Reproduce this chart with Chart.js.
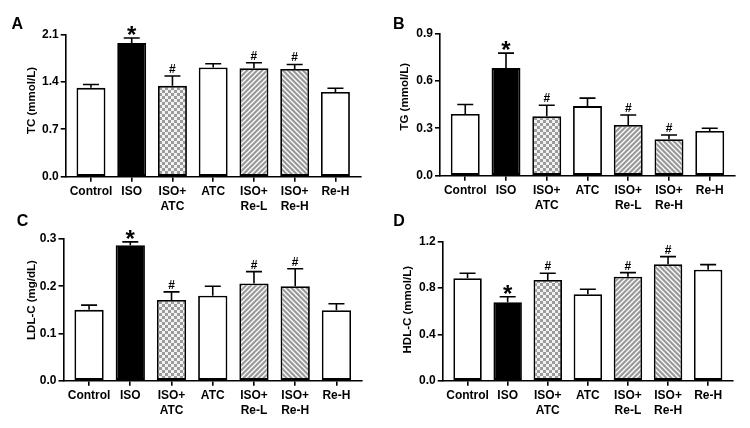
<!DOCTYPE html>
<html>
<head>
<meta charset="utf-8">
<script src="https://cdn.jsdelivr.net/npm/chart.js@4.4.1/dist/chart.umd.min.js"></script>
<style>
    html, body { margin: 0; padding: 0; background: #fff; }
    #wrap { position: relative; width: 750px; height: 428px; }
    #wrap canvas { position: absolute; }
</style>
</head>
<body>
<div id="wrap">
    <canvas id="chartA" width="375" height="214" style="left:0;top:0"></canvas>
    <canvas id="chartB" width="375" height="214" style="left:375px;top:0"></canvas>
    <canvas id="chartC" width="375" height="214" style="left:0;top:214px"></canvas>
    <canvas id="chartD" width="375" height="214" style="left:375px;top:214px"></canvas>
</div>
<script>
// ===== DATA =====
const groups = [["Control"], ["ISO"], ["ISO+", "ATC"], ["ATC"], ["ISO+", "Re-L"], ["ISO+", "Re-H"], ["Re-H"]];
const sigMarks = ["", "*", "#", "", "#", "#", ""];

const tcMean = [1.31, 1.97, 1.34, 1.61, 1.60, 1.59, 1.25];
const tcSem = [0.05, 0.075, 0.145, 0.055, 0.08, 0.065, 0.055];
const tcTicks = [0, 0.7, 1.4, 2.1];

const tgMean = [0.39, 0.68, 0.375, 0.44, 0.32, 0.23, 0.283];
const tgSem = [0.06, 0.095, 0.07, 0.05, 0.064, 0.027, 0.017];
const tgTicks = [0, 0.3, 0.6, 0.9];

const ldlMean = [0.150, 0.287, 0.171, 0.180, 0.206, 0.200, 0.149];
const ldlSem = [0.010, 0.007, 0.017, 0.020, 0.025, 0.037, 0.014];
const ldlTicks = [0, 0.1, 0.2, 0.3];

const hdlMean = [0.884, 0.677, 0.87, 0.746, 0.898, 1.005, 0.958];
const hdlSem = [0.043, 0.048, 0.057, 0.043, 0.035, 0.066, 0.044];
const hdlTicks = [0, 0.4, 0.8, 1.2];

const FONT = 'Arial, "Liberation Sans", sans-serif';
Chart.defaults.color = "#000";
Chart.defaults.font.family = FONT;

// ===== PATTERNS =====
function checkerPattern() {
    const c = document.createElement("canvas");
    c.width = 6; c.height = 6;
    const g = c.getContext("2d");
    g.fillStyle = "#f2f2f2";
    g.fillRect(0, 0, 6, 6);
    g.fillStyle = "#9c9c9c";
    g.fillRect(0, 0, 3, 3);
    g.fillRect(3, 3, 3, 3);
    return g.createPattern(c, "repeat");
}

function hatchPattern(forward) {
    const s = 5;
    const c = document.createElement("canvas");
    c.width = s; c.height = s;
    const g = c.getContext("2d");
    g.fillStyle = "#999999";
    g.fillRect(0, 0, s, s);
    g.strokeStyle = "#ffffff";
    g.lineWidth = 1.3;
    g.beginPath();
    if (forward) {
        g.moveTo(0, s); g.lineTo(s, 0);
        g.moveTo(-1, 1); g.lineTo(1, -1);
        g.moveTo(s - 1, s + 1); g.lineTo(s + 1, s - 1);
    } else {
        g.moveTo(0, 0); g.lineTo(s, s);
        g.moveTo(s - 1, -1); g.lineTo(s + 1, 1);
        g.moveTo(-1, s - 1); g.lineTo(1, s + 1);
    }
    g.stroke();
    return g.createPattern(c, "repeat");
}

const barFills = ["#ffffff", "#000000", checkerPattern(), "#ffffff", hatchPattern(true), hatchPattern(false), "#ffffff"];

// ===== ERROR BARS, MARKS, TITLES =====
const extras = {
    id: "extras",
    afterDatasetsDraw(chart, args, opts) {
        const ctx = chart.ctx;
        const meta = chart.getDatasetMeta(0);
        const y = chart.scales.y;
        ctx.save();
        ctx.strokeStyle = "#000";
        ctx.fillStyle = "#000";
        ctx.lineWidth = 1.6;
        opts.mean.forEach((m, i) => {
            const x = meta.data[i].x;
            const yb = y.getPixelForValue(m);
            const yt = y.getPixelForValue(m + opts.sem[i]);
            ctx.beginPath();
            ctx.moveTo(x, yb);
            ctx.lineTo(x, yt);
            ctx.moveTo(x - 8, yt);
            ctx.lineTo(x + 8, yt);
            ctx.stroke();

            const mk = sigMarks[i];
            if (mk) {
                ctx.font = mk === "*" ? "bold 24px " + FONT : "bold 12px " + FONT;
                ctx.textAlign = "center";
                ctx.textBaseline = "alphabetic";
                const tm = ctx.measureText(mk);
                const gap = mk === "*" ? 3 : 3;
                ctx.fillText(mk, x, yt - gap - tm.actualBoundingBoxDescent);
            }
        });

        // panel letter
        ctx.font = "bold 16px " + FONT;
        ctx.textAlign = "left";
        ctx.textBaseline = "alphabetic";
        ctx.fillText(opts.letter, opts.letterPos[0], opts.letterPos[1]);

        // y axis title
        ctx.translate(opts.titlePos[0], opts.titlePos[1]);
        ctx.rotate(-Math.PI / 2);
        ctx.font = "bold 11.5px " + FONT;
        ctx.textAlign = "center";
        ctx.textBaseline = "middle";
        ctx.fillText(opts.title, 0, 0);
        ctx.restore();
    }
};

// ===== PANELS =====
const panels = [
    { id: "chartA", letter: "A", title: "TC (mmol/L)", mean: tcMean, sem: tcSem, ticks: tcTicks,
      box: { l: 65.7, t: 34.3, r: 360.7, b: 176.7 }, letterPos: [11.5, 29.3], titlePos: [32, 100.5] },
    { id: "chartB", letter: "B", title: "TG (mmol/L)", mean: tgMean, sem: tgSem, ticks: tgTicks,
      box: { l: 65, t: 33.3, r: 360, b: 175.7 }, letterPos: [18, 29], titlePos: [30, 96.7] },
    { id: "chartC", letter: "C", title: "LDL-C (mg/dL)", mean: ldlMean, sem: ldlSem, ticks: ldlTicks,
      box: { l: 63.5, t: 25, r: 362, b: 166.7 }, letterPos: [16.7, 11.7], titlePos: [32, 86] },
    { id: "chartD", letter: "D", title: "HDL-C (mmol/L)", mean: hdlMean, sem: hdlSem, ticks: hdlTicks,
      box: { l: 67.7, t: 27.7, r: 358, b: 166.7 }, letterPos: [18.3, 11.7], titlePos: [32.5, 95.7] }
];

function makePanel(p) {
    const tickFont = { family: FONT, weight: "bold", size: 12, lineHeight: 1.25 };
    const axisGrid = { display: true, drawOnChartArea: false, offset: false, tickLength: 5, color: "#000", lineWidth: 1.6 };
    const axisBorder = { display: true, color: "#000", width: 1.6 };

    new Chart(document.getElementById(p.id), {
        type: "bar",
        data: {
            datasets: [{
                data: p.mean.map((v, i) => ({ x: i, y: v })),
                backgroundColor: barFills,
                borderColor: "#000",
                borderWidth: 1.8,
                borderSkipped: false,
                barPercentage: 0.71,
                categoryPercentage: 1
            }]
        },
        options: {
            responsive: false,
            animation: false,
            devicePixelRatio: 1,
            layout: { padding: { left: 0, top: p.box.t, right: 375 - p.box.r, bottom: 0 } },
            plugins: {
                legend: { display: false },
                tooltip: { enabled: false },
                extras: p
            },
            scales: {
                x: {
                    type: "linear",
                    offset: false,
                    min: -0.62,
                    max: 6.62,
                    afterBuildTicks: s => { s.ticks = groups.map((g, i) => ({ value: i })); },
                    afterFit: s => { s.height = 214 - p.box.b; },
                    ticks: { callback: v => groups[v], autoSkip: false, maxRotation: 0, padding: 2, font: tickFont, color: "#000" },
                    grid: axisGrid,
                    border: axisBorder
                },
                y: {
                    min: 0,
                    max: p.ticks[p.ticks.length - 1],
                    afterBuildTicks: s => { s.ticks = p.ticks.map(v => ({ value: v })); },
                    afterFit: s => { s.width = p.box.l; },
                    ticks: { callback: v => v.toFixed(1), padding: 2, font: tickFont, color: "#000" },
                    grid: axisGrid,
                    border: axisBorder
                }
            }
        },
        plugins: [extras]
    });
}

panels.forEach(makePanel);
</script>
</body>
</html>
